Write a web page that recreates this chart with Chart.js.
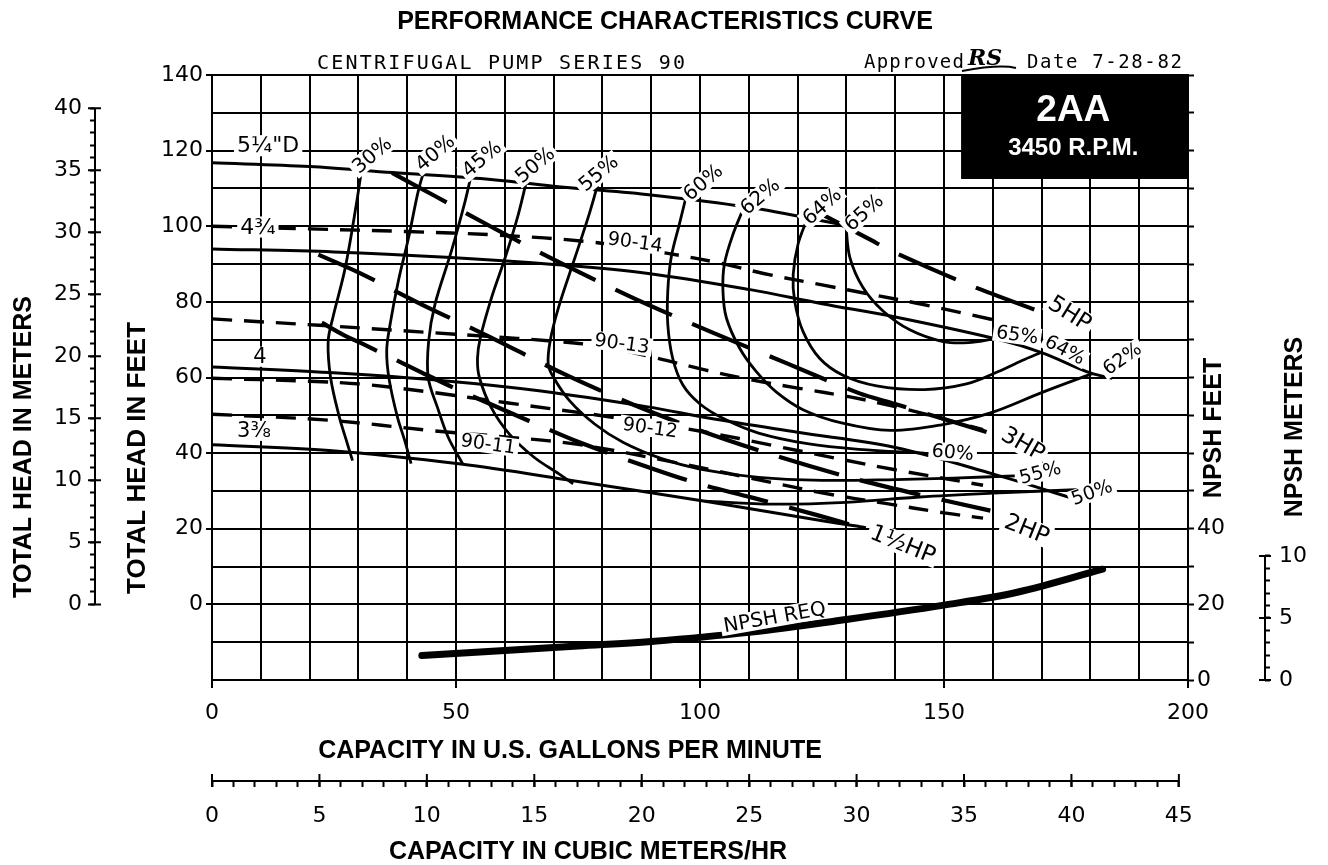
<!DOCTYPE html>
<html>
<head>
<meta charset="utf-8">
<title>Performance Characteristics Curve - 2AA</title>
<script src="https://cdn.jsdelivr.net/npm/chart.js@4.4.1/dist/chart.umd.min.js"></script>
<style>
  html, body { margin: 0; padding: 0; background: #fff; }
  canvas { display: block; }
</style>
</head>
<body>
<canvas id="pumpChart" width="1328" height="865"></canvas>
<script>
// Unit conversions for the secondary axes
const FT_PER_M = 3.28084;
const GPM_PER_M3H = 4.40287;

// Tick labels
const gpmTicks = [0, 50, 100, 150, 200];
const cubicTicks = [0, 5, 10, 15, 20, 25, 30, 35, 40, 45];
const headTicks = [0, 20, 40, 60, 80, 100, 120, 140];
const meterTicks = [0, 5, 10, 15, 20, 25, 30, 35, 40];
const npshFtTicks = [0, 20, 40];
const npshMTicks = [0, 5, 10];

// Impeller head curves, [US GPM, head ft]
const head525 = [[0,116.8],[20,115.8],[37,114.2],[55,112.6],[70,110.6],[89,108.4],[110,105],[130,100.2]];
const head475 = [[0,94],[25,93.2],[48,91.8],[70,89.9],[89,87.6],[110,83.3],[125,79.5],[140,76],[161,70.1],[170,66.6],[180,61.2],[184.5,59.8]];
const head400 = [[0,62.8],[24,61.3],[48,59.1],[67,56.5],[89,52.3],[102,49.2],[120,45.5],[140,41.5],[160,34.5],[179,27]];
const head338 = [[0,42.2],[24,40.7],[51,37.1],[74,32.7],[102,27.1],[126,21.9],[134,20.3]];

// 90 series curves (dashed)
const s9014 = [[0,100],[20,99.3],[40,98.6],[58,97.7],[78,95.8],[94,92.7],[105,90],[113,87.5],[125,84.5],[135,82],[145,79.5],[160,75.3]];
const s9013 = [[0,75.5],[22,73.8],[55,71],[70,69.6],[80,68.2],[90,65.5],[101,62],[110,59.5],[120,57.2],[131,54.8],[140,52.3],[150,49],[158,46.2]];
const s9012 = [[0,59.8],[20,59],[31,58.2],[45.5,56],[60,53.4],[82,49.5],[101,45.6],[115,42],[128,38.6],[140,35.6],[158,31.5]];
const s9011 = [[0,50.3],[24,48.7],[45.5,45.9],[60,44.3],[75,42.3],[95,37.5],[110,33.5],[125,29.5],[138,26.7],[150,24.2],[158,22.8]];

// Efficiency contours
const eff30 = [[30.8,116.4],[29.6,106],[27.3,89],[24.8,76],[23.8,69.5],[24.3,60],[26,50],[27.5,43.5],[28.8,38]];
const eff40 = [[43.7,115.7],[42.3,109.5],[40.3,97.1],[38.2,85.6],[36.5,74.1],[35.8,67.1],[36.3,59.5],[38,49.5],[39.5,43.3],[40.8,37.2]];
const eff45 = [[53.1,113.5],[51.9,106.8],[49.1,93.6],[45.7,79.4],[44.4,69.7],[44.3,60],[46.2,52.1],[48.4,44.2],[51.4,37.1]];
const eff50 = [[64.8,113.9],[62.8,103.3],[60.1,91.8],[57.3,81.2],[55,70.6],[54.4,65],[54.8,60],[57.2,52.1],[60.9,45.1],[66,38.9],[71.1,34.5],[74,31.9]];
const eff50r = [[101,27.3],[115,26.5],[130,27],[145,28.4],[160,29.4],[178.3,30.4]];
const eff55 = [[79,110.8],[77.1,102.4],[74.4,91.8],[71,78.5],[69.3,69.7],[68.9,63.5],[70,60],[73.3,53.8],[78.4,47.7],[84.3,42.8],[92,38.6],[100,35.8],[112,33.6],[125,32.8],[140,33],[152,33.4],[164.5,34]];
const eff60 = [[97.5,109.6],[95.8,100.7],[94.1,91.8],[93.4,82.9],[93.4,74],[94.4,65.1],[96.5,58],[100,53],[105,49],[112,45.3],[122,42.5],[132.5,41],[146,40]];
const eff62 = [[109.2,105.6],[106.8,98],[105,90],[104.7,82.9],[105.4,75.8],[108.1,67.8],[111.5,61.6],[115.6,56.2],[121.1,51.5],[129,48],[139,46],[149.5,47.5],[159.7,50.7],[170,56],[180.5,61.1]];
const eff64 = [[122.1,102.4],[120.1,95.3],[119.1,87.3],[119.4,80.2],[121.1,72.2],[124.5,65.1],[129.3,60.6],[136.2,57.8],[146,56.8],[154.6,58.3],[161,61.5],[166,64.5],[170,66.7]];
const eff65 = [[129.9,100.2],[130.7,91.8],[133.4,83.8],[137.5,77.6],[143,72.6],[149.8,69.5],[155,69.2],[160.3,70.2]];

// Horsepower lines
const hp5 = [[125.5,102.8],[134.5,96.7],[140.3,92.8],[155.5,84.3],[169.3,77.6]];
const hp3 = [[36.9,114.1],[45.4,108.2],[57.3,99.8],[71.7,90.1],[86.7,80.8],[102,72.2],[117.7,63.8],[132.7,55.8],[140,53],[150,49],[159,45.5]];
const hp2 = [[21.8,92.5],[30,87.8],[43,79.3],[57,70.7],[72,61],[86,53],[100,46],[115,39.5],[130,33.8],[145,29],[159.5,24.8]];
const hp15 = [[22.5,74.5],[27,71.2],[31,68.8],[43,61.3],[50,57],[57,53],[65,48.5],[75,43],[90,36],[100,31.8],[110.5,28.3],[124,23.6],[133,20.3]];

// NPSH required, [US GPM, NPSH ft]
const npshReq = [[43,6.5],[60,7.8],[75,9],[90,10.2],[110,12.6],[130,16],[150,19.8],[165,23.2],[182.5,29.3]];

// Curve labels, anchored in chart units (GPM, head ft)
const curveLabels = [
  { text: '5¼"D', gpm: 11.5, ft: 121.3, rot: 0, size: 22 },
  { text: '4¾', gpm: 9.4, ft: 99.8, rot: 0, size: 22 },
  { text: '4', gpm: 9.8, ft: 65.5, rot: 0, size: 21 },
  { text: '3⅜', gpm: 8.6, ft: 45.9, rot: 0, size: 21 },
  { text: '30%', gpm: 32.8, ft: 118.8, rot: -40, size: 20 },
  { text: '40%', gpm: 45.7, ft: 119.4, rot: -40, size: 20 },
  { text: '45%', gpm: 55.3, ft: 117.8, rot: -40, size: 20 },
  { text: '50%', gpm: 66.2, ft: 116.2, rot: -40, size: 20 },
  { text: '55%', gpm: 79.2, ft: 114, rot: -40, size: 20 },
  { text: '60%', gpm: 100.6, ft: 111.6, rot: -40, size: 20 },
  { text: '62%', gpm: 112.3, ft: 107.9, rot: -40, size: 20 },
  { text: '64%', gpm: 125, ft: 105.3, rot: -42, size: 20 },
  { text: '65%', gpm: 133.6, ft: 103.6, rot: -42, size: 20 },
  { text: '90-14', gpm: 86.7, ft: 95.8, rot: 8, size: 19 },
  { text: '90-13', gpm: 84, ft: 69, rot: 8, size: 19 },
  { text: '90-12', gpm: 89.8, ft: 46.7, rot: 8, size: 19 },
  { text: '90-11', gpm: 56.6, ft: 42.4, rot: 8, size: 19 },
  { text: '5HP', gpm: 175.8, ft: 76.9, rot: 32, size: 23 },
  { text: '65%', gpm: 165, ft: 71.3, rot: 8, size: 19 },
  { text: '64%', gpm: 174.8, ft: 67.3, rot: 28, size: 19 },
  { text: '62%', gpm: 186.5, ft: 65, rot: -35, size: 19 },
  { text: '3HP', gpm: 166.2, ft: 42.4, rot: 30, size: 23 },
  { text: '60%', gpm: 151.8, ft: 40.2, rot: 5, size: 19 },
  { text: '55%', gpm: 169.7, ft: 34.8, rot: -15, size: 19 },
  { text: '50%', gpm: 180.3, ft: 29.6, rot: -20, size: 19 },
  { text: '2HP', gpm: 167, ft: 19.9, rot: 22, size: 23 },
  { text: '1½HP', gpm: 141.6, ft: 15.9, rot: 22, size: 23 },
  { text: 'NPSH REQ', gpm: 115.3, ft: -3.4, rot: -10, size: 20 }
];

const black = '#000';
const letterFont = '"DejaVu Sans", "Noto Sans", sans-serif';
const boldFont = '"Liberation Sans", Arial, sans-serif';
const tickFont = { family: letterFont, size: 22 };

const pts = arr => arr.map(([x, y]) => ({ x, y }));

function solid(data, width) {
  return { data: pts(data), showLine: true, pointRadius: 0, borderColor: black,
           borderWidth: width || 3, tension: 0.35, xAxisID: 'x', yAxisID: 'y' };
}
function dashed(data) {
  return Object.assign(solid(data, 3.4), { borderDash: [20, 12] });
}
function hpLine(data) {
  return Object.assign(solid(data, 4.2), { borderDash: [62, 22], tension: 0.3 });
}

const datasets = [
  solid(head525), solid(head475), solid(head400), solid(head338),
  dashed(s9014), dashed(s9013), dashed(s9012), dashed(s9011),
  solid(eff30, 2.8), solid(eff40, 2.8), solid(eff45, 2.8), solid(eff50, 2.8), solid(eff50r, 2.8), solid(eff55, 2.8),
  solid(eff60, 2.8), solid(eff62, 2.8), solid(eff64, 2.8), solid(eff65, 2.8),
  hpLine(hp5), hpLine(hp3), hpLine(hp2), hpLine(hp15),
  Object.assign(solid(npshReq, 7), { yAxisID: 'y3', borderCapStyle: 'round' })
];

// keep whole-number ticks inside a range on the secondary axes
function keepTicks(lo, hi) {
  return scale => {
    scale.ticks = scale.ticks.filter(t => Number.isInteger(t.value) && t.value >= lo && t.value <= hi);
  };
}
function labelOnly(list) {
  return v => list.includes(v) ? String(v) : '';
}
function markOnly(list) {
  return ctx => (ctx.tick && list.includes(ctx.tick.value)) ? black : 'rgba(0,0,0,0)';
}

function drawText(ctx, text, x, y, opts) {
  ctx.save();
  ctx.translate(x, y);
  if (opts.rot) ctx.rotate(opts.rot * Math.PI / 180);
  ctx.font = opts.font;
  ctx.textAlign = opts.align || 'center';
  ctx.textBaseline = 'middle';
  if (opts.spacing) ctx.letterSpacing = opts.spacing + 'px';
  if (opts.bg) {
    const w = ctx.measureText(text).width;
    ctx.fillStyle = '#fff';
    ctx.fillRect(-w / 2 - 3, -opts.size * 0.48, w + 6, opts.size * 0.96);
  }
  ctx.fillStyle = opts.color || black;
  ctx.fillText(text, 0, 1);
  ctx.restore();
}

const sheetDecor = {
  id: 'sheetDecor',
  beforeDraw(chart) {
    const ctx = chart.ctx;
    ctx.save();
    ctx.fillStyle = '#fff';
    ctx.fillRect(0, 0, chart.width, chart.height);
    ctx.restore();
  },
  afterDraw(chart) {
    const ctx = chart.ctx;
    const { x, y, x2, y2, y4 } = chart.scales;
    const area = chart.chartArea;

    ctx.save();
    ctx.strokeStyle = black;
    ctx.lineWidth = 2;

    // meters axis (left)
    const mx = y2.right;
    ctx.beginPath();
    ctx.moveTo(mx, y2.getPixelForValue(0));
    ctx.lineTo(mx, y2.getPixelForValue(40));
    meterTicks.forEach(v => {
      const py = y2.getPixelForValue(v);
      ctx.moveTo(mx - 7, py);
      ctx.lineTo(mx + 6, py);
    });
    ctx.stroke();

    // cubic meters axis (bottom)
    const cy = x2.top;
    ctx.beginPath();
    ctx.moveTo(x2.getPixelForValue(0), cy);
    ctx.lineTo(x2.getPixelForValue(45), cy);
    cubicTicks.forEach(v => {
      const px = x2.getPixelForValue(v);
      ctx.moveTo(px, cy - 7);
      ctx.lineTo(px, cy + 6);
    });
    ctx.stroke();

    // NPSH meters axis (right)
    const nx = y4.left;
    ctx.beginPath();
    ctx.moveTo(nx, y4.getPixelForValue(0));
    ctx.lineTo(nx, y4.getPixelForValue(10));
    npshMTicks.forEach(v => {
      const py = y4.getPixelForValue(v);
      ctx.moveTo(nx - 6, py);
      ctx.lineTo(nx + 6, py);
    });
    ctx.stroke();
    ctx.restore();

    // curve labels
    curveLabels.forEach(l => {
      drawText(ctx, l.text, x.getPixelForValue(l.gpm), y.getPixelForValue(l.ft),
        { rot: l.rot, size: l.size, font: l.size + 'px ' + letterFont, bg: true });
    });

    // model box
    const bl = x.getPixelForValue(153.5), bt = area.top + 1;
    const br = area.right, bb = y.getPixelForValue(112.5);
    ctx.fillStyle = black;
    ctx.fillRect(bl, bt, br - bl, bb - bt);
    drawText(ctx, '2AA', x.getPixelForValue(176.5), y.getPixelForValue(130.8), { font: 'bold 37px ' + boldFont, color: '#fff' });
    drawText(ctx, '3450 R.P.M.', x.getPixelForValue(176.5), y.getPixelForValue(120.8), { font: 'bold 24px ' + boldFont, color: '#fff' });

    // headings
    drawText(ctx, 'PERFORMANCE CHARACTERISTICS CURVE', 665, 21, { font: 'bold 25px ' + boldFont });
    drawText(ctx, 'CENTRIFUGAL PUMP SERIES 90', 317, 63, { font: '20px "DejaVu Sans Mono", monospace', align: 'left', spacing: 2.2 });
    drawText(ctx, 'Approved', 864, 62, { font: '19px "DejaVu Sans Mono", monospace', align: 'left', spacing: 1.2 });
    drawText(ctx, 'RS', 985, 58, { font: 'italic bold 22px "DejaVu Serif", serif' });
    ctx.save();
    ctx.strokeStyle = black;
    ctx.lineWidth = 2;
    ctx.beginPath();
    ctx.moveTo(962, 71);
    ctx.quadraticCurveTo(1000, 64, 1016, 68);
    ctx.stroke();
    ctx.restore();
    drawText(ctx, 'Date 7-28-82', 1027, 62, { font: '19px "DejaVu Sans Mono", monospace', align: 'left', spacing: 1.6 });

    // axis titles
    const tf = 'bold 25px ' + boldFont;
    drawText(ctx, 'TOTAL HEAD IN METERS', 23, 447, { font: tf, rot: -90 });
    drawText(ctx, 'TOTAL HEAD IN FEET', 137, 458, { font: 'bold 26px ' + boldFont, rot: -90 });
    drawText(ctx, 'NPSH FEET', 1213, 428, { font: tf, rot: -90 });
    drawText(ctx, 'NPSH METERS', 1294, 427, { font: tf, rot: -90 });
    drawText(ctx, 'CAPACITY IN U.S. GALLONS PER MINUTE', 570, 750, { font: tf });
    drawText(ctx, 'CAPACITY IN CUBIC METERS/HR', 588, 851, { font: tf });
  }
};

new Chart(document.getElementById('pumpChart'), {
  type: 'scatter',
  data: { datasets },
  options: {
    responsive: false,
    animation: false,
    devicePixelRatio: 1,
    events: [],
    layout: { padding: { top: 75, right: 0, bottom: 0, left: 0 } },
    plugins: { legend: { display: false }, tooltip: { enabled: false } },
    scales: {
      x: {
        type: 'linear', position: 'bottom', weight: 0, min: 0, max: 200,
        ticks: { stepSize: 10, autoSkip: false, maxRotation: 0, padding: 12, color: black, font: tickFont, callback: labelOnly(gpmTicks) },
        grid: { color: black, lineWidth: 2, tickLength: 8, tickWidth: 2, tickColor: markOnly(gpmTicks) },
        border: { display: true, color: black, width: 2 },
        afterFit: s => { s.height = 101; }
      },
      x2: {
        type: 'linear', position: 'bottom', weight: 1, min: 0, max: 200 / GPM_PER_M3H,
        afterBuildTicks: keepTicks(0, 45),
        ticks: { stepSize: 1, includeBounds: false, autoSkip: false, maxRotation: 0, padding: 16, color: black, font: tickFont, callback: labelOnly(cubicTicks) },
        grid: { drawOnChartArea: false, color: black, tickLength: 6, tickWidth: 2 },
        border: { display: false },
        afterFit: s => { s.height = 84; }
      },
      y: {
        type: 'linear', position: 'left', weight: 0, min: -20, max: 140,
        ticks: { stepSize: 10, autoSkip: false, padding: 3, color: black, font: tickFont, callback: labelOnly(headTicks) },
        grid: { color: black, lineWidth: 2, tickLength: 6, tickWidth: 2, tickColor: markOnly(headTicks) },
        border: { display: true, color: black, width: 2 },
        afterFit: s => { s.width = 117; }
      },
      y2: {
        type: 'linear', position: 'left', weight: 1, min: -20 / FT_PER_M, max: 140 / FT_PER_M,
        afterBuildTicks: keepTicks(0, 40),
        ticks: { stepSize: 1, includeBounds: false, autoSkip: false, padding: 8, color: black, font: tickFont, callback: labelOnly(meterTicks) },
        grid: { drawOnChartArea: false, color: black, tickLength: 5, tickWidth: 2 },
        border: { display: false },
        afterFit: s => { s.width = 95; }
      },
      y3: {
        type: 'linear', position: 'right', weight: 0, min: 0, max: 160,
        ticks: { stepSize: 10, autoSkip: false, padding: 3, color: black, font: tickFont, callback: labelOnly(npshFtTicks) },
        grid: { drawOnChartArea: false, color: black, tickLength: 6, tickWidth: 2 },
        border: { display: true, color: black, width: 2 },
        afterFit: s => { s.width = 77; }
      },
      y4: {
        type: 'linear', position: 'right', weight: 1, min: 0, max: 160 / FT_PER_M,
        afterBuildTicks: keepTicks(0, 10),
        ticks: { stepSize: 1, includeBounds: false, autoSkip: false, padding: 9, color: black, font: tickFont, callback: labelOnly(npshMTicks) },
        grid: { drawOnChartArea: false, color: black, tickLength: 5, tickWidth: 2 },
        border: { display: false },
        afterFit: s => { s.width = 63; }
      }
    }
  },
  plugins: [sheetDecor]
});
</script>
</body>
</html>
